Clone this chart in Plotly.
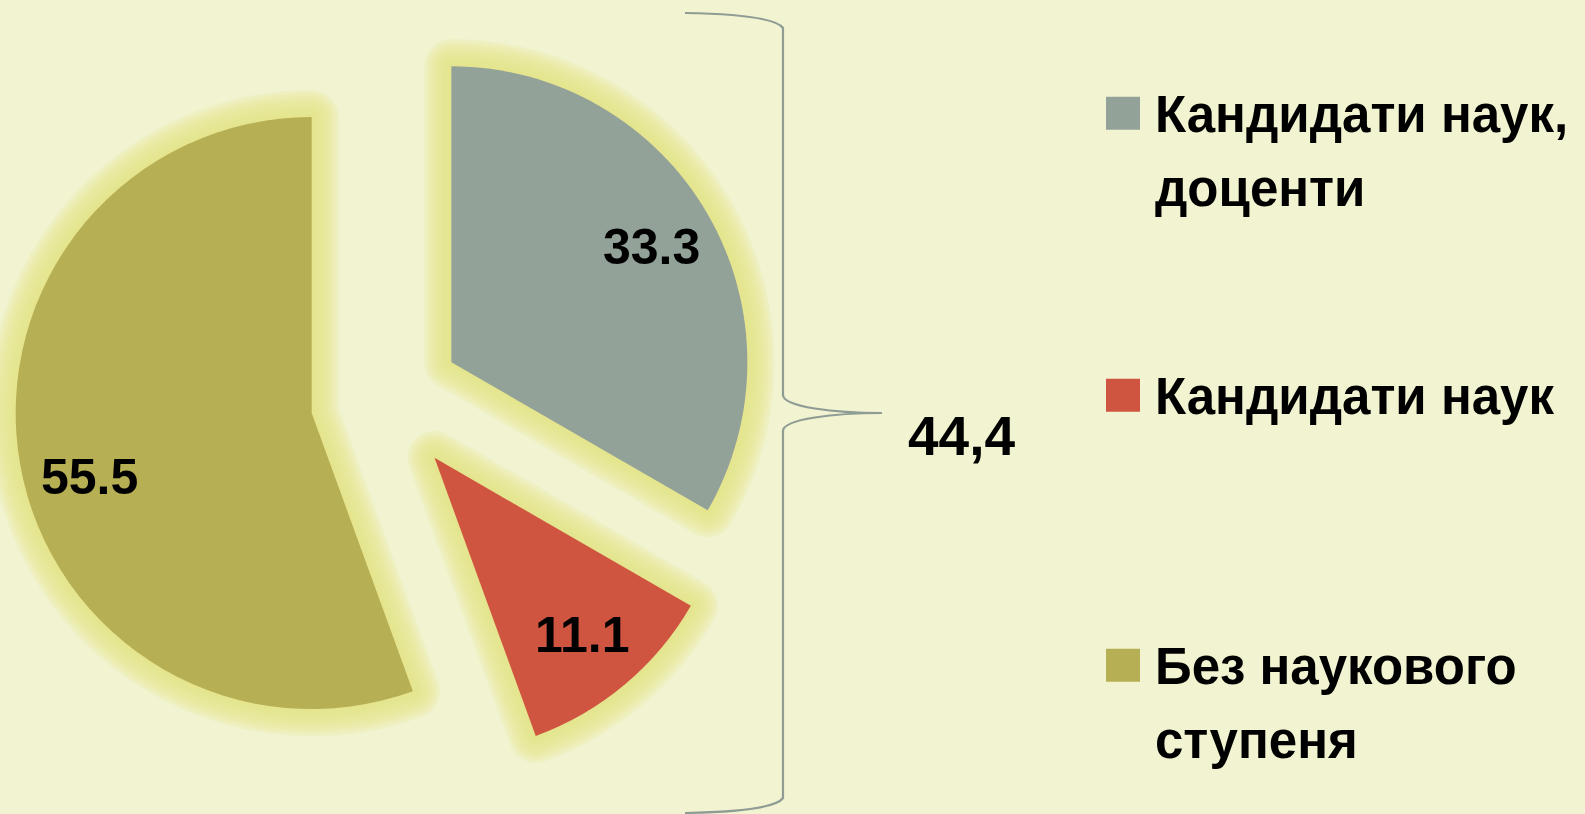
import math
import plotly.graph_objects as go

# ---------------- data ----------------
labels = ["Кандидати наук,<br>доценти", "Кандидати наук", "Без наукового<br>ступеня"]
values = [33.3, 11.1, 55.5]
value_text = ["33.3", "11.1", "55.5"]
colors = ["#93A298", "#D05540", "#B7AF53"]
brace_label = "44,4"

# ---------------- geometry / style ----------------
W, H = 1585, 814
BG = "#F2F3D1"
GLOW = "rgba(230,226,132,{a})"
cx, cy, R = 386, 400, 296          # pie centre and radius in pixels
PULL = 0.255
half = R * (1 + PULL)
dom_x = [(cx - half) / W, (cx + half) / W]
dom_y = [1 - (cy + half) / H, 1 - (cy - half) / H]

BOLD = "Liberation Sans, Arial, sans-serif"

fig = go.Figure()

# glow layers (strokes under the slices)
for w in [54, 48, 42, 36, 30, 24, 18, 12, 6]:
    fig.add_trace(go.Pie(
        values=values, labels=labels, sort=False, direction="clockwise", rotation=0,
        pull=[PULL] * len(values), domain=dict(x=dom_x, y=dom_y),
        marker=dict(colors=["rgba(0,0,0,0)"] * len(values),
                    line=dict(color=GLOW.format(a=0.19), width=w)),
        textinfo="none", hoverinfo="skip", showlegend=False))

# main slices
fig.add_trace(go.Pie(
    values=values, labels=labels, sort=False, direction="clockwise", rotation=0,
    pull=[PULL] * len(values), domain=dict(x=dom_x, y=dom_y),
    marker=dict(colors=colors, line=dict(width=0)),
    textinfo="none", showlegend=False))

# value labels placed along each slice's bisector
label_frac = 0.78
angle_adjust = [0, 0, -4.5]
total = sum(values)
cum = 0.0
for v, t, da in zip(values, value_text, angle_adjust):
    mid = (cum + v / 2) / total * 360 + da
    cum += v
    th = math.radians(mid)
    d = PULL * R + label_frac * R
    px = cx + d * math.sin(th)
    py = cy - d * math.cos(th)
    fig.add_annotation(x=px, y=py, xref="x", yref="y", text=t, showarrow=False,
                       xanchor="center", yanchor="middle",
                       font=dict(family=BOLD, size=50, color="black", weight="bold"))

# curly brace
brace = ("M 685 13 C 740 14 776 18 783 28 L 783 395 "
         "C 783 407 835 413 882 413 C 835 413 783 419 783 431 "
         "L 783 798 C 776 808 740 812 685 813")
fig.add_shape(type="path", path=brace, xref="x", yref="y",
              line=dict(color="#8E9C94", width=2.2))
fig.add_annotation(x=961, y=436, xref="x", yref="y", text=brace_label, showarrow=False,
                   xanchor="center", yanchor="middle",
                   font=dict(family=BOLD, size=55, color="black", weight="bold"))

# legend (manual)
FS = 51
entry_baselines = [[132, 206], [414], [684, 758]]
for lab, col, bases in zip(labels, colors, entry_baselines):
    lines = lab.split("<br>")
    capmid = bases[0] - 0.358 * FS
    fig.add_shape(type="rect", xref="x", yref="y", x0=1106, x1=1140,
                  y0=capmid - 17, y1=capmid + 16, fillcolor=col, line=dict(width=0))
    for line, b in zip(lines, bases):
        fig.add_annotation(x=1153, y=b - 0.3465 * FS, xref="x", yref="y", text=line,
                           showarrow=False, xanchor="left", yanchor="middle",
                           font=dict(family=BOLD, size=FS, color="black", weight="bold"))

fig.update_layout(
    width=W, height=H, margin=dict(l=0, r=0, t=0, b=0),
    paper_bgcolor=BG, plot_bgcolor="rgba(0,0,0,0)",
    xaxis=dict(range=[0, W], visible=False, domain=[0, 1], fixedrange=True),
    yaxis=dict(range=[H, 0], visible=False, domain=[0, 1], fixedrange=True),
    showlegend=False,
)

fig.write_html("out.html", config={"displayModeBar": False},
               post_script="document.body.style.margin='0';document.body.style.background='%s';" % BG)
